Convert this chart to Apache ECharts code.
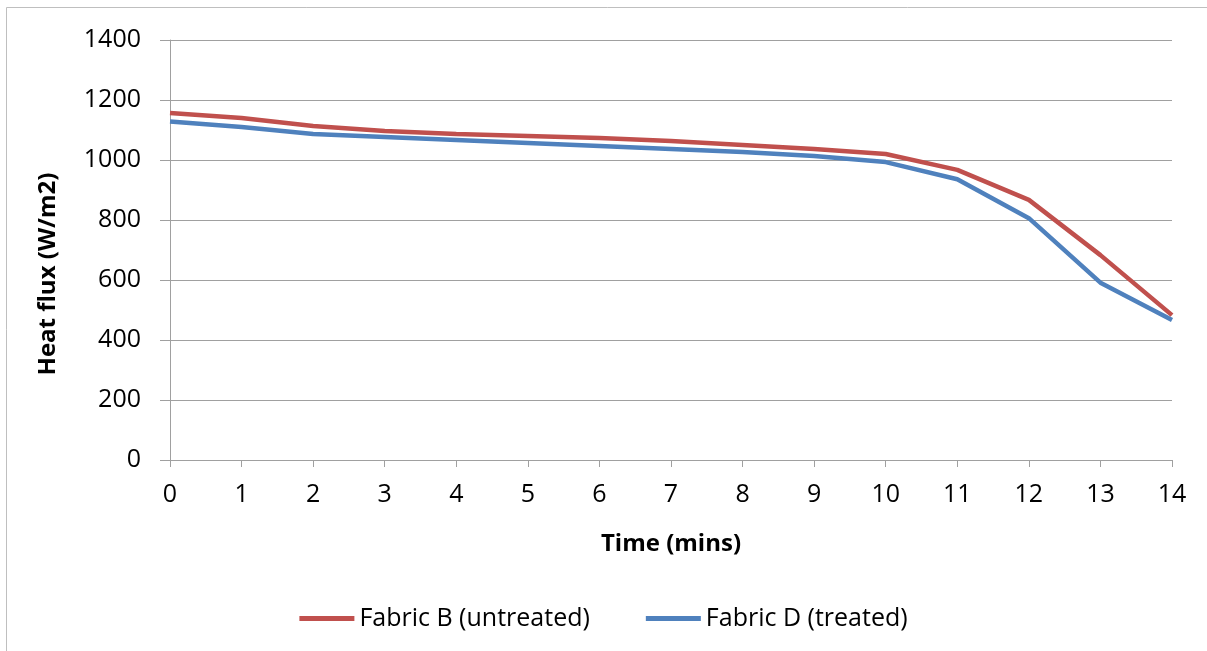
<!DOCTYPE html>
<html>
<head>
<meta charset="utf-8">
<script src="https://cdn.jsdelivr.net/npm/echarts@6/dist/echarts.min.js"></script>
<style>
	html, body { margin:0; padding:0; background:#fff; }
	#chart { width:1207px; height:651px; }
</style>
</head>
<body>
<div id="chart"></div>
<script>
var timeMins = ['0','1','2','3','4','5','6','7','8','9','10','11','12','13','14'];
var fabricB = [1157,1140,1113,1097,1087,1080,1073,1063,1050,1037,1020,967,867,683,483];
var fabricD = [1128,1110,1087,1077,1067,1057,1047,1037,1027,1013,993,936,806,591,467];
var yTicks = [0,200,400,600,800,1000,1200,1400];

var myChart = echarts.init(document.getElementById('chart'));
var font = '"Open Sans", Arial, sans-serif';
var option = {
	animation: false,
	color: ['#c0504d', '#4f81bd'],
	graphic: [{
		type: 'rect',
		shape: { x: 6.5, y: 7.5, width: 1300, height: 700 },
		style: { fill: 'none', stroke: '#bfbfbf', lineWidth: 1 }
	}, {
		// y axis title sits a bit below the plot centre in the original
		type: 'text',
		x: 48,
		y: 274,
		rotation: Math.PI / 2,
		style: {
			text: 'Heat flux (W/m2)',
			font: 'bold 24px "Open Sans", Arial, sans-serif',
			fill: '#000',
			align: 'center',
			verticalAlign: 'middle'
		}
	}],
	grid: { left: 170, right: 35, top: 40, bottom: 191 },
	legend: {
		top: 601,
		left: 'center',
		itemWidth: 55,
		itemHeight: 5,
		itemGap: 56,
		icon: 'rect',
		textStyle: { fontFamily: font, fontSize: 25, color: '#000' },
		data: ['Fabric B (untreated)', 'Fabric D (treated)']
	},
	xAxis: {
		type: 'category',
		data: timeMins,
		boundaryGap: false,
		name: 'Time (mins)',
		nameLocation: 'middle',
		nameGap: 72,
		nameTextStyle: { fontFamily: font, fontSize: 24, fontWeight: 'bold', color: '#000' },
		axisLine: { lineStyle: { color: '#a0a0a0', width: 1 } },
		axisTick: { show: true, length: 7, alignWithLabel: true, lineStyle: { color: '#a0a0a0' } },
		axisLabel: { fontFamily: font, fontSize: 25, color: '#000', margin: 22 },
		splitLine: { show: false }
	},
	yAxis: {
		type: 'value',
		min: yTicks[0],
		max: yTicks[yTicks.length - 1],
		interval: 200,
		axisLine: { show: true, lineStyle: { color: '#a0a0a0', width: 1 } },
		axisTick: { show: true, length: 10, lineStyle: { color: '#a0a0a0' } },
		axisLabel: { fontFamily: font, fontSize: 25, color: '#000', margin: 29, formatter: function (v) { return String(v); } },
		splitLine: { lineStyle: { color: '#a0a0a0', width: 1 } }
	},
	series: [{
		name: 'Fabric B (untreated)',
		type: 'line',
		data: fabricB,
		symbol: 'none',
		lineStyle: { width: 4.5, color: '#c0504d' }
	}, {
		name: 'Fabric D (treated)',
		type: 'line',
		data: fabricD,
		symbol: 'none',
		lineStyle: { width: 4.5, color: '#4f81bd' }
	}]
};
myChart.setOption(option);
</script>
</body>
</html>
